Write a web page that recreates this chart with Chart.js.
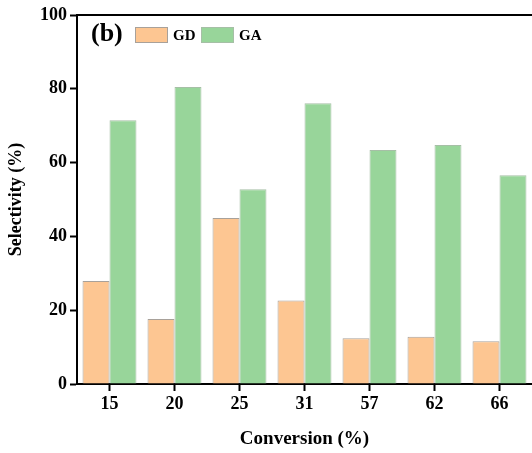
<!DOCTYPE html>
<html>
<head>
<meta charset="utf-8">
<script src="https://cdn.jsdelivr.net/npm/chart.js@4"></script>
<style>
  html, body { margin: 0; padding: 0; background: #fff; }
  #wrap { width: 532px; height: 453px; }
</style>
</head>
<body>
<div id="wrap"><canvas id="chart" width="532" height="453"></canvas></div>
<script>
// data
const conversions = ['15', '20', '25', '31', '57', '62', '66'];
const gdValues = [27.9, 17.6, 45.0, 22.6, 12.4, 12.8, 11.6];
const gaValues = [71.5, 80.5, 52.8, 76.1, 63.4, 64.8, 56.6];
const yTicks = [0, 20, 40, 60, 80, 100];

const serif = '"Liberation Serif", "Times New Roman", serif';

// panel letter + legend drawn inside the plot, plus the top frame line
const panelDecor = {
  id: 'panelDecor',
  afterDraw(chart) {
    const ctx = chart.ctx;
    const area = chart.chartArea;
    ctx.save();
    ctx.strokeStyle = '#000';
    ctx.lineWidth = 2;
    ctx.beginPath();
    ctx.moveTo(area.left - 1, area.top);
    ctx.lineTo(area.right, area.top);
    ctx.stroke();

    ctx.fillStyle = '#000';
    ctx.font = 'bold 26px ' + serif;
    ctx.textBaseline = 'middle';
    ctx.fillText('(b)', 91, 34);

    const items = chart.data.datasets;
    let x = 135;
    ctx.font = 'bold 15px ' + serif;
    items.forEach(ds => {
      ctx.fillStyle = ds.backgroundColor;
      ctx.fillRect(x, 27, 33, 16);
      ctx.strokeStyle = ds.borderColor;
      ctx.lineWidth = 1;
      ctx.strokeRect(x + 0.5, 27.5, 32, 15);
      ctx.fillStyle = '#000';
      ctx.fillText(ds.label, x + 38, 36);
      x += 66;
    });
    ctx.restore();
  }
};

new Chart(document.getElementById('chart'), {
  type: 'bar',
  data: {
    labels: conversions,
    datasets: [
      {
        label: 'GD',
        data: gdValues,
        backgroundColor: '#FDC692',
        borderColor: '#A8A19A',
        borderWidth: 1
      },
      {
        label: 'GA',
        data: gaValues,
        backgroundColor: '#98D59A',
        borderColor: '#A6BFA6',
        borderWidth: 1
      }
    ]
  },
  options: {
    responsive: false,
    animation: false,
    layout: { padding: { top: 15, right: 0, left: 0, bottom: 0 } },
    plugins: {
      legend: { display: false },
      tooltip: { enabled: false }
    },
    datasets: {
      bar: { barPercentage: 1, categoryPercentage: 0.83 }
    },
    scales: {
      x: {
        grid: { display: true, offset: false, drawOnChartArea: false, tickLength: 7, tickColor: '#000', tickWidth: 2 },
        border: { color: '#000', width: 2 },
        ticks: { color: '#000', font: { family: serif, size: 18, weight: 'bold' }, padding: 3 },
        title: {
          display: true,
          text: 'Conversion (%)',
          color: '#000',
          font: { family: serif, size: 19, weight: 'bold' },
          padding: { top: 0, bottom: 3 }
        },
        afterFit(scale) { scale.height = 69; }
      },
      y: {
        min: 0,
        max: 100,
        afterBuildTicks(scale) { scale.ticks = yTicks.map(v => ({ value: v })); },
        grid: { display: true, drawOnChartArea: false, tickLength: 7, tickColor: '#000', tickWidth: 2 },
        border: { color: '#000', width: 2 },
        ticks: { color: '#000', font: { family: serif, size: 18, weight: 'bold' }, padding: 3 },
        title: {
          display: true,
          text: 'Selectivity (%)',
          color: '#000',
          font: { family: serif, size: 18, weight: 'bold' },
          padding: { top: 6, bottom: 0 }
        },
        afterFit(scale) { scale.width = 77; }
      }
    }
  },
  plugins: [panelDecor]
});
</script>
</body>
</html>
